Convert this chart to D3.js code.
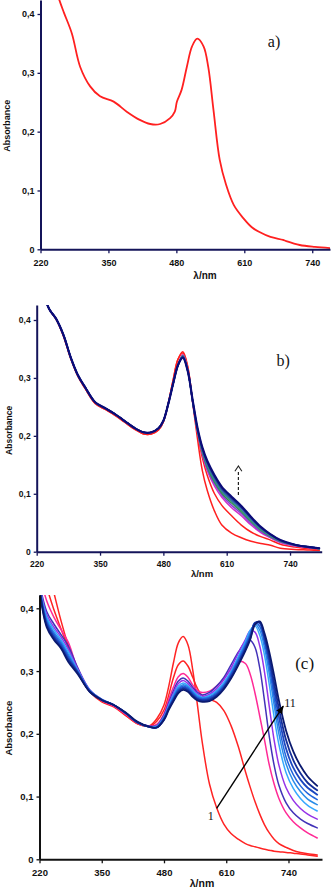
<!DOCTYPE html>
<html><head><meta charset="utf-8">
<script src="https://cdn.jsdelivr.net/npm/d3@7"></script>
<style>body{margin:0;background:#fff} svg{display:block}</style>
</head><body>
<svg id="chart" width="332" height="890"></svg>
<script>
// ---------------- data ----------------
const xTicks = [220, 350, 480, 610, 740];
const yTicks = [0, 0.1, 0.2, 0.3, 0.4];

// Panel a) single spectrum
const aWavelengths = [240,256,265,280,296,315,334,360,385,410,430,449,468,477,481,490,500,510,520,532,541,551,563,575,590,608,625,640,660,684,690,716,745,774];
const aAbsorbance  = [0.47,0.424,0.402,0.367,0.31,0.277,0.26,0.251,0.234,0.22,0.213,0.213,0.223,0.234,0.251,0.271,0.31,0.345,0.358,0.345,0.31,0.237,0.152,0.11,0.075,0.053,0.037,0.029,0.021,0.016,0.014,0.0073,0.004,0.002];

// Panel b) titration series
const bWavelengths = [230,245,260,275,290,305,320,340,360,380,400,420,440,455,470,480,490,500,510,520,530,540,550,560,570,585,600,620,640,660,680,700,720,750,780,800];
const bRedInitial = [0.46,0.42,0.401,0.372,0.333,0.302,0.281,0.256,0.246,0.236,0.224,0.212,0.203,0.203,0.21,0.224,0.256,0.296,0.332, 0.345,0.32,0.258,0.195,0.14,0.106,0.07,0.046,0.032,0.024,0.018,0.014,0.011,0.006,0.004,0.003,0.002];
const bRedSecond  = [0.46,0.42,0.401,0.372,0.333,0.302,0.281,0.256,0.246,0.236,0.224,0.212,0.203,0.203,0.21,0.224,0.256,0.296,0.332, 0.343,0.318,0.26,0.205,0.162,0.132,0.1,0.08,0.062,0.046,0.034,0.026,0.02,0.013,0.008,0.005,0.004];
const bStep1 = [0.46,0.42,0.402,0.374,0.335,0.304,0.283,0.258,0.248,0.238,0.226,0.214,0.206,0.206,0.213,0.226,0.255,0.29,0.322, 0.34,0.315,0.259,0.207,0.168,0.14,0.113,0.094,0.076,0.062,0.046,0.033,0.024,0.016,0.01,0.007,0.005];
const bStep2 = [0.46,0.42,0.402,0.374,0.335,0.304,0.283,0.258,0.248,0.238,0.226,0.214,0.206,0.206,0.213,0.226,0.255,0.29,0.322, 0.339,0.314,0.259,0.208,0.17,0.143,0.117,0.098,0.08,0.066,0.049,0.035,0.025,0.017,0.011,0.007,0.005];
const bStep3 = [0.46,0.42,0.402,0.374,0.335,0.304,0.283,0.258,0.248,0.238,0.226,0.214,0.206,0.206,0.213,0.226,0.255,0.29,0.322, 0.338,0.314,0.26,0.209,0.172,0.146,0.12,0.101,0.084,0.069,0.052,0.037,0.026,0.018,0.011,0.008,0.005];
const bStep4 = [0.46,0.42,0.402,0.374,0.335,0.304,0.283,0.258,0.248,0.238,0.226,0.214,0.206,0.206,0.213,0.226,0.255,0.29,0.322, 0.338,0.313,0.26,0.21,0.174,0.149,0.123,0.104,0.087,0.071,0.054,0.038,0.027,0.018,0.012,0.008,0.005];
const bStep5 = [0.46,0.42,0.402,0.374,0.335,0.304,0.283,0.258,0.248,0.238,0.226,0.214,0.206,0.206,0.213,0.226,0.255,0.29,0.322, 0.337,0.313,0.261,0.211,0.176,0.151,0.126,0.106,0.089,0.074,0.056,0.04,0.028,0.019,0.012,0.008,0.006];
const bStep6 = [0.46,0.42,0.402,0.374,0.335,0.304,0.283,0.258,0.248,0.238,0.226,0.214,0.206,0.206,0.213,0.226,0.255,0.29,0.322, 0.336,0.312,0.261,0.212,0.177,0.153,0.128,0.108,0.091,0.076,0.058,0.041,0.029,0.019,0.012,0.008,0.006];
const bStep7 = [0.46,0.42,0.402,0.374,0.335,0.304,0.283,0.258,0.248,0.238,0.226,0.214,0.206,0.206,0.213,0.226,0.255,0.29,0.322, 0.336,0.312,0.262,0.213,0.179,0.155,0.13,0.11,0.093,0.077,0.059,0.042,0.03,0.02,0.012,0.008,0.006];
const bStep8 = [0.46,0.42,0.402,0.374,0.335,0.304,0.283,0.258,0.248,0.238,0.226,0.214,0.206,0.206,0.213,0.226,0.255,0.29,0.322, 0.335,0.312,0.262,0.214,0.18,0.157,0.132,0.112,0.095,0.079,0.06,0.043,0.03,0.02,0.012,0.008,0.006];

// Panel (c) titration series 1..11
const cWavelengths = [220,235,250,265,280,300,325,350,375,400,425,450,465,480,490,500,510,520,530,540,550,560,575,590,605,620,635,650,660,670,680,690,700,710,720,735,750,765,780,800];
const cCurve1  = [0.52,0.47,0.425,0.38,0.341,0.3,0.268,0.252,0.244,0.23,0.216,0.213,0.224,0.246,0.276,0.314,0.345,0.355,0.342,0.302,0.245,0.186,0.12,0.082,0.056,0.041,0.032,0.025,0.022,0.02,0.018,0.016,0.0145,0.013,0.012,0.011,0.0097,0.0085,0.007,0.005];
const cCurve2  = [0.49,0.435,0.398,0.367,0.337,0.298,0.267,0.251,0.243,0.229,0.216,0.212,0.22,0.238,0.262,0.29,0.31,0.316,0.308,0.29,0.272,0.261,0.255,0.25,0.237,0.213,0.18,0.14,0.115,0.092,0.072,0.055,0.042,0.032,0.025,0.019,0.014,0.011,0.009,0.007];
const cCurve3  = [0.455,0.412,0.386,0.366,0.346,0.303,0.268,0.253,0.244,0.231,0.217,0.212,0.215,0.232,0.255,0.275,0.291,0.296,0.29,0.278,0.269,0.266,0.268,0.276,0.288,0.303,0.315,0.312,0.295,0.265,0.228,0.19,0.15,0.12,0.097,0.074,0.06,0.05,0.042,0.034];
const cCurve4  = [0.44,0.395,0.375,0.358,0.34,0.305,0.27,0.255,0.246,0.233,0.218,0.212,0.213,0.23,0.25,0.269,0.284,0.289,0.284,0.274,0.266,0.262,0.266,0.276,0.29,0.31,0.33,0.346,0.349,0.338,0.305,0.252,0.195,0.15,0.118,0.09,0.074,0.064,0.057,0.05];
const cCurve5  = [0.438,0.39,0.37,0.354,0.335,0.303,0.27,0.255,0.246,0.233,0.218,0.212,0.212,0.228,0.247,0.265,0.28,0.285,0.28,0.271,0.264,0.26,0.263,0.272,0.286,0.305,0.328,0.35,0.364,0.362,0.34,0.298,0.243,0.19,0.15,0.114,0.094,0.081,0.072,0.064];
const cCurve6  = [0.436,0.386,0.366,0.35,0.331,0.301,0.269,0.255,0.246,0.233,0.218,0.211,0.212,0.227,0.245,0.262,0.276,0.281,0.277,0.269,0.262,0.258,0.261,0.269,0.282,0.3,0.323,0.347,0.365,0.372,0.357,0.325,0.278,0.227,0.183,0.138,0.113,0.097,0.086,0.077];
const cCurve7  = [0.434,0.382,0.362,0.347,0.327,0.3,0.269,0.254,0.246,0.233,0.218,0.211,0.211,0.226,0.243,0.26,0.273,0.278,0.275,0.267,0.26,0.257,0.259,0.267,0.279,0.297,0.32,0.344,0.361,0.375,0.365,0.337,0.295,0.246,0.2,0.152,0.125,0.108,0.096,0.087];
const cCurve8  = [0.433,0.379,0.359,0.344,0.324,0.299,0.268,0.254,0.246,0.233,0.218,0.211,0.211,0.225,0.242,0.258,0.271,0.276,0.273,0.265,0.258,0.256,0.258,0.265,0.277,0.295,0.317,0.341,0.358,0.377,0.371,0.345,0.306,0.258,0.213,0.163,0.135,0.117,0.105,0.095];
const cCurve9  = [0.432,0.376,0.356,0.341,0.321,0.298,0.268,0.254,0.246,0.233,0.218,0.211,0.21,0.224,0.241,0.256,0.269,0.274,0.271,0.263,0.256,0.254,0.256,0.263,0.275,0.293,0.314,0.338,0.355,0.377,0.376,0.35,0.315,0.27,0.227,0.176,0.146,0.127,0.114,0.103];
const cCurve10 = [0.431,0.373,0.353,0.338,0.318,0.297,0.267,0.254,0.246,0.233,0.218,0.211,0.21,0.223,0.24,0.254,0.267,0.272,0.269,0.261,0.255,0.253,0.254,0.261,0.273,0.29,0.311,0.335,0.352,0.376,0.378,0.355,0.322,0.281,0.24,0.19,0.158,0.137,0.122,0.11];
const cCurve11 = [0.43,0.37,0.35,0.336,0.315,0.295,0.267,0.254,0.246,0.234,0.219,0.211,0.21,0.222,0.238,0.252,0.265,0.27,0.267,0.259,0.253,0.251,0.252,0.259,0.271,0.288,0.309,0.332,0.35,0.374,0.379,0.36,0.33,0.293,0.253,0.205,0.172,0.149,0.132,0.117];

// colours (styling kept separate from values)
const bColors = ["#ff2020","#ff2020","#d030c8","#8a3ed8","#2e8b57","#3a9a70","#3366bb","#2a5599","#1f2f8f","#0b0b78"];
const cColors = ["#ff2424","#ff2424","#ff2a96","#4232b8","#9633e8","#36a8ff","#2a8ce8","#2266dd","#1c48c0","#142e99","#0b1a70"];

// ---------------- drawing ----------------
const svg = d3.select("#chart");
svg.append("rect").attr("width", 332).attr("height", 890).attr("fill", "#fff");
const sans = "'Liberation Sans', Arial, Helvetica, sans-serif";
const serif = "'Liberation Serif', 'Times New Roman', serif";
const fmt = d => d === 0 ? "0" : d3.format(".1f")(d).replace(".", ",");

function panel(id, o) {
  const x = d3.scaleLinear().domain([220, o.xMax]).range([o.left, o.right]);
  const y = d3.scaleLinear().domain([0, o.yMax]).range([o.bottom, o.top]);
  const defs = svg.append("defs");
  defs.append("clipPath").attr("id", "clip-" + id).append("rect")
    .attr("x", o.left).attr("y", o.top)
    .attr("width", o.right - o.left).attr("height", o.bottom - o.top);
  const g = svg.append("g");
  const plot = g.append("g").attr("clip-path", `url(#clip-${id})`);
  const axes = g.append("g");
  const xa = axes.append("g").attr("transform", `translate(0,${o.bottom})`)
    .call(d3.axisBottom(x).tickValues(xTicks).tickSize(4).tickSizeOuter(0).tickPadding(o.xPad));
  const ya = axes.append("g").attr("transform", `translate(${o.left},0)`)
    .call(d3.axisLeft(y).tickValues(yTicks).tickSize(3).tickSizeOuter(0).tickPadding(o.yPad).tickFormat(fmt));
  [xa, ya].forEach(a => {
    a.select(".domain").attr("stroke", o.axisColor).attr("stroke-width", 2);
    a.selectAll(".tick line").attr("stroke", o.axisColor).attr("stroke-width", 1.3);
    a.selectAll(".tick text").attr("font-family", sans).attr("font-weight", "bold")
      .attr("font-size", o.tickFont).attr("fill", "#111");
  });
  g.append("text").attr("transform", `translate(${o.ylabX},${(o.top + o.bottom) / 2 + o.ylabDy}) rotate(-90)`)
    .attr("text-anchor", "middle").attr("font-family", sans).attr("font-weight", "bold")
    .attr("font-size", o.labFont).attr("fill", "#111").text("Absorbance");
  g.append("text").attr("x", o.xlabX).attr("y", o.xlabY)
    .attr("text-anchor", "middle").attr("font-family", sans).attr("font-weight", "bold")
    .attr("font-size", o.labFont + 1).attr("fill", "#111").text("λ/nm");
  return { x, y, plot, g };
}

function drawSeries(p, wl, values, color, width) {
  const line = d3.line()
    .x((d, i) => p.x(wl[i]))
    .y(d => p.y(d))
    .curve(d3.curveCatmullRom.alpha(0.5));
  p.plot.append("path").attr("d", line(values)).attr("fill", "none")
    .attr("stroke", color).attr("stroke-width", width)
    .attr("stroke-linejoin", "round").attr("stroke-linecap", "round");
}

// Panel a
const pa = panel("a", { xMax: 774, left: 40.5, right: 330, top: 0, bottom: 249.3, yMax: 0.4238,
  axisColor: "#14145a", xPad: 6, yPad: 3, tickFont: 9, labFont: 9,
  ylabX: 10, ylabDy: 1, xlabX: 205, xlabY: 279 });
drawSeries(pa, aWavelengths, aAbsorbance, "#ff2020", 1.8);
pa.g.append("text").attr("x", pa.x(655)).attr("y", pa.y(0.344))
  .attr("font-family", serif).attr("font-size", 16).attr("fill", "#111").text("a)");

// Panel b
const pb = panel("b", { xMax: 805, left: 36.7, right: 321.7, top: 305, bottom: 551.7, yMax: 0.4259,
  axisColor: "#14145a", xPad: 5, yPad: 3, tickFont: 8.5, labFont: 8.5,
  ylabX: 11.5, ylabDy: 2, xlabX: 202, xlabY: 577 });
const bSeries = [bRedInitial, bRedSecond, bStep1, bStep2, bStep3, bStep4, bStep5, bStep6, bStep7, bStep8];
bSeries.forEach((s, i) => drawSeries(pb, bWavelengths, s, bColors[i], i === bSeries.length - 1 ? 2.2 : 1.5));
pb.g.append("text").attr("x", pb.x(712)).attr("y", pb.y(0.321))
  .attr("font-family", serif).attr("font-size", 16).attr("fill", "#111").text("b)");
// dashed arrow (increase direction)
pb.g.append("line").attr("x1", pb.x(634)).attr("x2", pb.x(634))
  .attr("y1", pb.y(0.098)).attr("y2", pb.y(0.141))
  .attr("stroke", "#222").attr("stroke-width", 1.2).attr("stroke-dasharray", "3,2");
pb.g.append("path")
  .attr("d", `M${pb.x(634) - 3.5},${pb.y(0.139)} L${pb.x(634)},${pb.y(0.148)} L${pb.x(634) + 3.5},${pb.y(0.139)}`)
  .attr("fill", "none").attr("stroke", "#222").attr("stroke-width", 1.1);

// Panel c
const pc = panel("c", { xMax: 810, left: 39.5, right: 322, top: 595, bottom: 859.3, yMax: 0.4212,
  axisColor: "#111", xPad: 6, yPad: 3, tickFont: 9.5, labFont: 9.5,
  ylabX: 11.7, ylabDy: 1, xlabX: 202, xlabY: 887 });
const cSeries = [cCurve1, cCurve2, cCurve3, cCurve4, cCurve5, cCurve6, cCurve7, cCurve8, cCurve9, cCurve10, cCurve11];
cSeries.forEach((s, i) => drawSeries(pc, cWavelengths, s, cColors[i], i >= 8 ? 1.8 : 1.5));
pc.g.append("text").attr("x", pc.x(754)).attr("y", pc.y(0.304))
  .attr("font-family", serif).attr("font-size", 17).attr("fill", "#111").text("(c)");
svg.append("defs").append("marker").attr("id", "arrowHead")
  .attr("viewBox", "0 0 10 10").attr("refX", 9).attr("refY", 5)
  .attr("markerWidth", 6).attr("markerHeight", 6).attr("orient", "auto")
  .append("path").attr("d", "M0,1 L10,5 L0,9 Z").attr("fill", "#000");
pc.g.append("line").attr("x1", pc.x(590)).attr("y1", pc.y(0.081))
  .attr("x2", pc.x(729)).attr("y2", pc.y(0.244))
  .attr("stroke", "#000").attr("stroke-width", 1.4).attr("marker-end", "url(#arrowHead)");
pc.g.append("text").attr("x", pc.x(731)).attr("y", pc.y(0.243))
  .attr("font-family", serif).attr("font-size", 12).attr("fill", "#111").text("11");
pc.g.append("text").attr("x", pc.x(584)).attr("y", pc.y(0.063)).attr("text-anchor", "end")
  .attr("font-family", serif).attr("font-size", 12).attr("fill", "#111").text("1");
</script>
</body></html>
